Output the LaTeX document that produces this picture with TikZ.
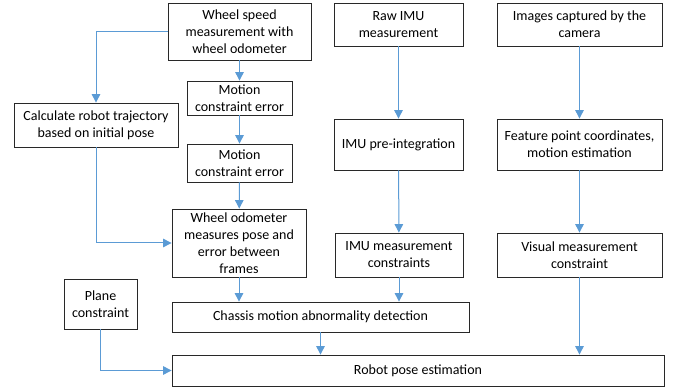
\documentclass[tikz,border=0pt]{standalone}
\usepackage{fontspec}
\setmainfont{Carlito}
\definecolor{flow}{RGB}{91,155,213}
\definecolor{frame}{RGB}{40,40,40}
\usepackage{tikz}
\usetikzlibrary{arrows.meta,positioning,shadows}

\begin{document}
\begin{tikzpicture}[x=1pt,y=-1pt,
    stagebox/.style={draw=frame,line width=0.8pt,fill=white,align=center,
      inner sep=1pt,font=\fontsize{14}{17}\selectfont,
      drop shadow={opacity=0.25,shadow xshift=1pt,shadow yshift=-1pt}},
    link/.style={flow,line width=1pt,-{Triangle[width=8.5pt,length=8.5pt]}}]
        \useasboundingbox (0,0) rectangle (678,387);
        \node[stagebox,minimum width=143pt,minimum height=57pt] (wss) at (239.5,31.5)
          {Wheel speed\\measurement with\\wheel odometer};
        \node[stagebox,minimum width=105pt,minimum height=34pt] (mce1) at (239.5,98)
          {Motion\\constraint error};
        \node[stagebox,minimum width=105pt,minimum height=38pt] (mce2) at (239.5,163)
          {Motion\\constraint error};
        \node[stagebox,minimum width=164pt,minimum height=44pt] (calc) at (96,125)
          {Calculate robot trajectory\\based on initial pose};
        \node[stagebox,minimum width=134pt,minimum height=68pt] (wom) at (239,243)
          {Wheel odometer\\measures pose and\\error between\\frames};
        \node[stagebox,minimum width=73pt,minimum height=50pt] (plane) at (100.5,304)
          {Plane\\constraint};
        \node[stagebox,minimum width=297pt,minimum height=30pt] (chassis) at (320.5,317)
          {Chassis motion abnormality detection};
        \node[stagebox,minimum width=492pt,minimum height=31pt] (pose) at (418,370.5)
          {Robot pose estimation};
        \node[stagebox,minimum width=129pt,minimum height=43pt] (raw) at (398.5,24.5)
          {Raw IMU\\measurement};
        \node[stagebox,minimum width=165pt,minimum height=43pt] (img) at (579.5,24.5)
          {Images captured by the\\camera};
        \node[stagebox,minimum width=129pt,minimum height=51pt] (pre) at (398.5,144.5)
          {IMU pre-integration};
        \node[stagebox,minimum width=165pt,minimum height=51pt] (feat) at (579.5,144.5)
          {Feature point coordinates,\\motion estimation};
        \node[stagebox,minimum width=128pt,minimum height=44pt] (imc) at (399,255)
          {IMU measurement\\constraints};
        \node[stagebox,minimum width=165pt,minimum height=44pt] (vis) at (579.5,255)
          {Visual measurement\\constraint};

        \draw[link] (wss) -- (mce1);
        \draw[link] (mce1) -- (mce2);
        \draw[link] (mce2) -- (wom);
        \draw[link] (wss.west) -| (calc.north);
        \draw[link] (calc.south) |- (wom.west);
        \draw[link] (wom.south) -- (wom.south |- chassis.north);
        \draw[link] (raw) -- (pre);
        \draw[link] (pre) -- (imc);
        \draw[link] (imc.south) -- (imc.south |- chassis.north);
        \draw[link] (img) -- (feat);
        \draw[link] (feat) -- (vis);
        \draw[link] (vis.south) -- (vis.south |- pose.north);
        \draw[link] (chassis.south) -- (chassis.south |- pose.north);
        \draw[link] (plane.south) |- (pose.west);
      \end{tikzpicture}
\end{document}
